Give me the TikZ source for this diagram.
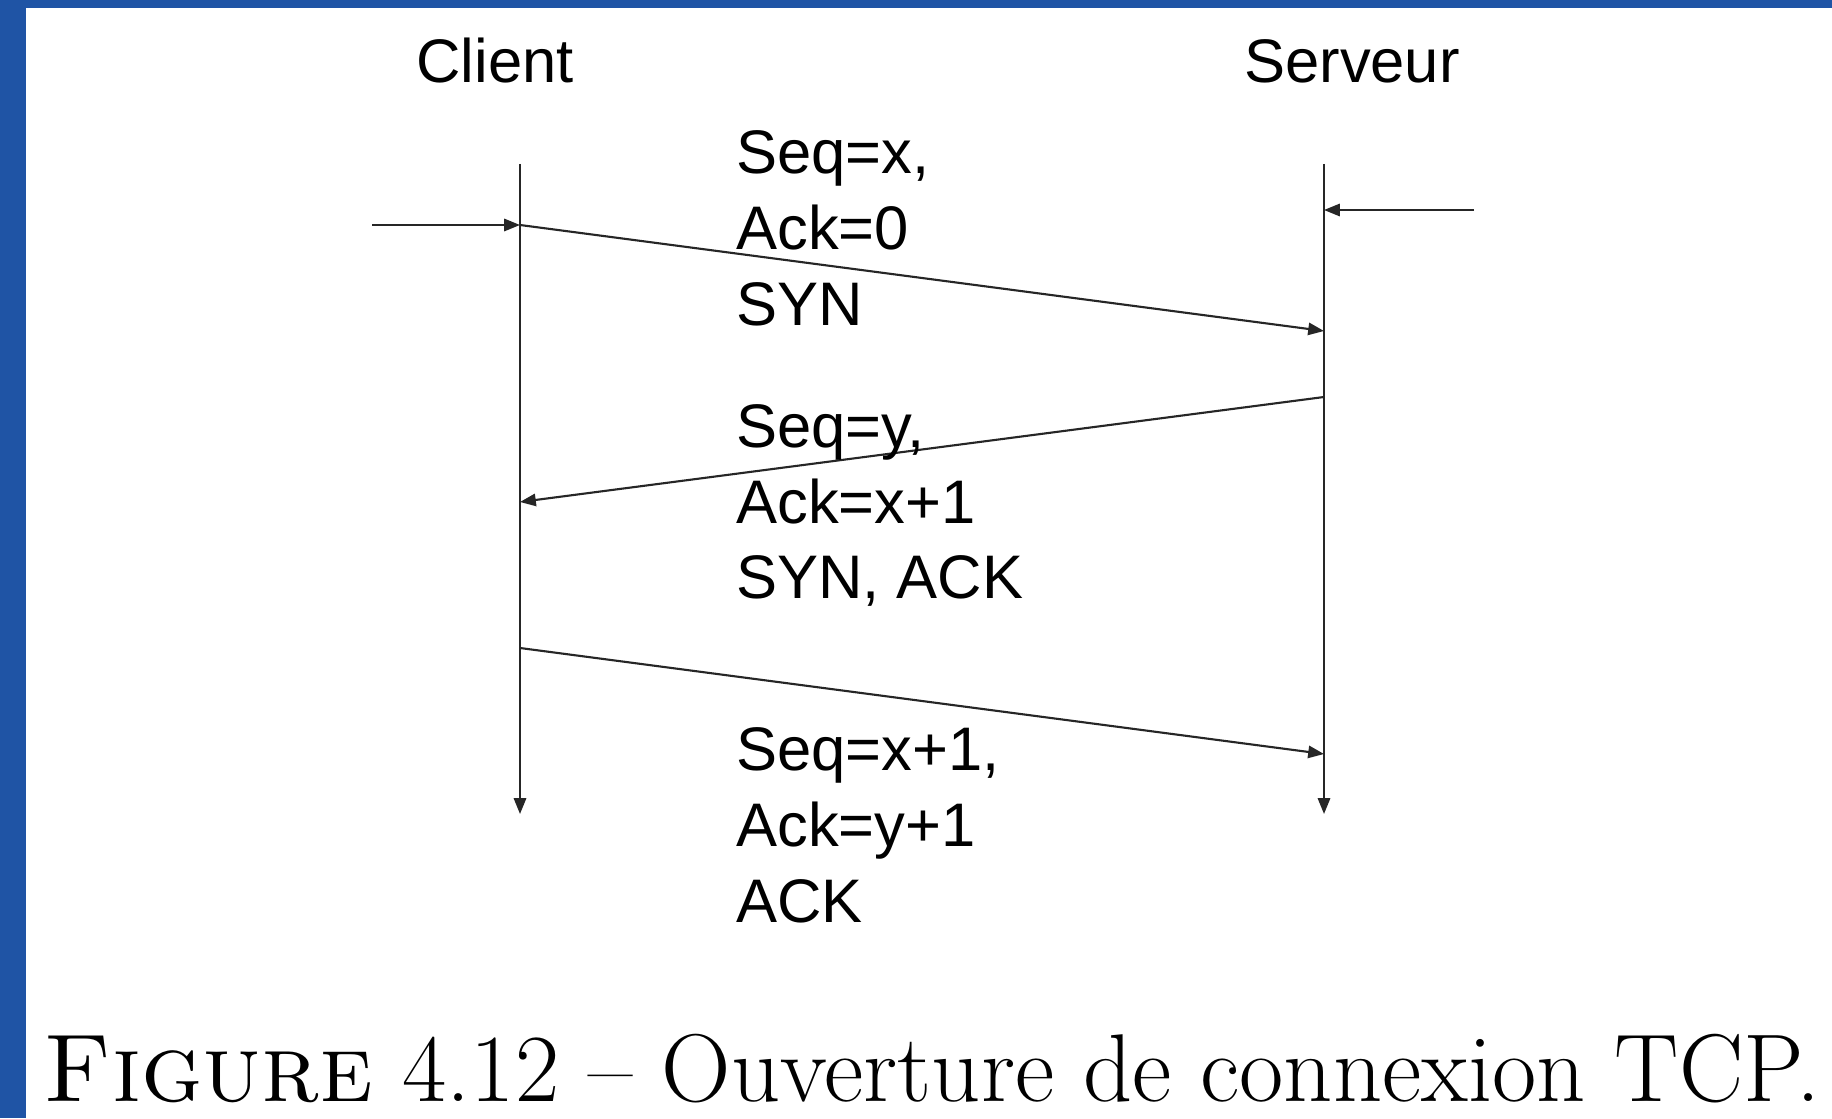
\documentclass[tikz,border=0pt]{standalone}
\usepackage{fontspec}
\newfontfamily\arialfont{Liberation Sans}
\usetikzlibrary{arrows.meta}
\definecolor{blueframe}{RGB}{31,84,165}

\begin{document}
\begin{tikzpicture}[
  lbl/.style={font=\arialfont\fontsize{35}{43.2}\selectfont, inner sep=0pt},
  msg/.style={lbl, align=left, anchor=west},
  line/.style={draw=black!85, line width=1.2pt},
  arr/.style={line, -{Triangle[length=9pt,width=7pt]}}
]
\useasboundingbox (0,0) rectangle (36.64,22.36);
\fill[blueframe] (0,0) rectangle (36.64,22.36);
\fill[white] (0.52,0) rectangle (36.64,22.2);

% end hosts
\node[lbl] (client) at (9.9,21.14) {Client};
\node[lbl] (serveur) at (27.04,21.14) {Serveur};

% time lines
\coordinate (C0) at (10.4,19.08);
\coordinate (C1) at (10.4,6.08);
\coordinate (S0) at (26.48,19.08);
\coordinate (S1) at (26.48,6.08);
\draw[arr] (C0) -- (C1);
\draw[arr] (S0) -- (S1);

% open requests
\coordinate (Cin) at (7.44,17.86);
\coordinate (Ca) at (10.4,17.86);
\coordinate (Sin) at (29.48,18.16);
\coordinate (Sa) at (26.48,18.16);
\draw[arr] (Cin) -- (Ca);
\draw[arr] (Sin) -- (Sa);

% segments
\coordinate (Sb) at (26.48,15.74);
\coordinate (Sc) at (26.48,14.42);
\coordinate (Cb) at (10.4,12.32);
\coordinate (Cc) at (10.4,9.4);
\coordinate (Sd) at (26.48,7.28);
\draw[arr] (Ca) -- (Sb);
\draw[arr] (Sc) -- (Cb);
\draw[arr] (Cc) -- (Sd);

\node[msg] (syn) at (14.72,17.8) {Seq=x,\\Ack=0\\SYN};
\node[msg] (synack) at (14.72,12.25) {Seq=y,\\Ack=x+1\\SYN, ACK};
\node[msg] (ack) at (14.72,5.85) {Seq=x+1,\\Ack=y+1\\ACK};

\node[font=\fontsize{54.8}{60}\selectfont, anchor=base west, inner sep=0pt] (caption) at (0.86,0.34)
  {\textsc{Figure} 4.12 -- Ouverture de connexion TCP.};
\end{tikzpicture}
\end{document}
